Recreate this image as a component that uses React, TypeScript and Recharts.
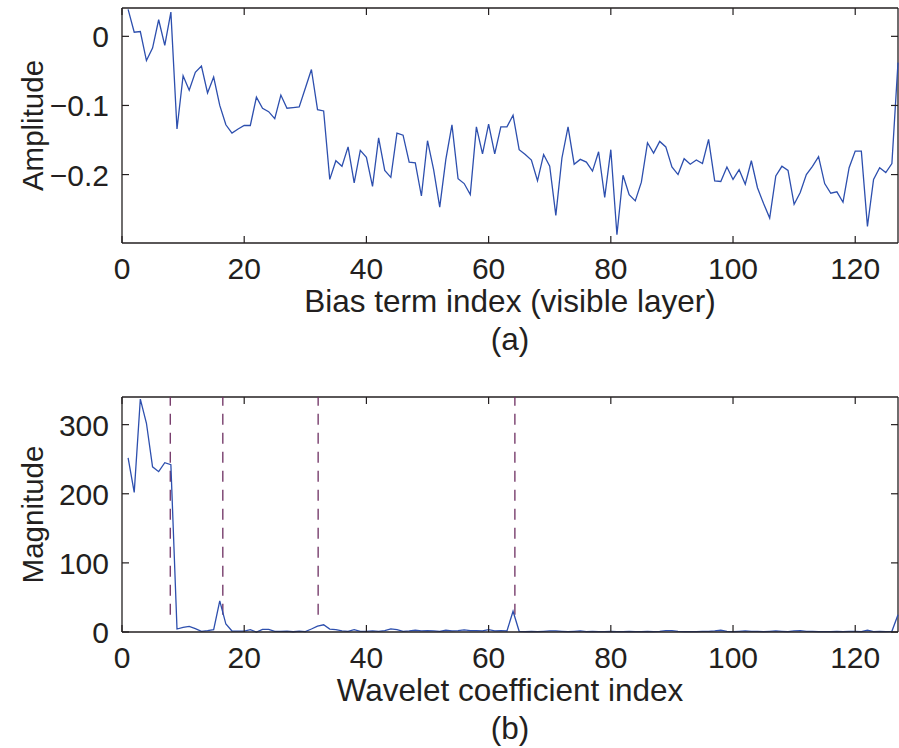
import React from 'react';
import { LineChart, Line, XAxis, YAxis, ReferenceLine } from 'recharts';

// bias term index 1..127 shared by both panels
const termIndex: number[] = Array.from({ length: 127 }, (_, k) => k + 1);

const biasValues: number[] = [
  0.039, 0.006, 0.007, -0.035, -0.017, 0.024, -0.013, 0.035, -0.134, -0.057,
  -0.078, -0.052, -0.043, -0.082, -0.059, -0.1, -0.128, -0.14, -0.134, -0.129,
  -0.129, -0.088, -0.104, -0.109, -0.119, -0.085, -0.104, -0.103, -0.102, -0.075,
  -0.048, -0.106, -0.108, -0.207, -0.18, -0.188, -0.16, -0.212, -0.165, -0.175,
  -0.217, -0.147, -0.194, -0.204, -0.14, -0.143, -0.182, -0.183, -0.231, -0.151,
  -0.193, -0.247, -0.178, -0.128, -0.206, -0.213, -0.229, -0.131, -0.17, -0.127,
  -0.17, -0.131, -0.131, -0.114, -0.164, -0.171, -0.179, -0.209, -0.171, -0.188,
  -0.259, -0.176, -0.131, -0.185, -0.178, -0.182, -0.195, -0.167, -0.233, -0.164,
  -0.287, -0.201, -0.229, -0.238, -0.211, -0.154, -0.169, -0.152, -0.16, -0.189,
  -0.2, -0.177, -0.185, -0.179, -0.184, -0.149, -0.209, -0.21, -0.189, -0.207,
  -0.193, -0.214, -0.18, -0.219, -0.242, -0.263, -0.202, -0.188, -0.194, -0.243,
  -0.226, -0.2, -0.188, -0.174, -0.213, -0.227, -0.225, -0.24, -0.19, -0.166,
  -0.166, -0.275, -0.207, -0.19, -0.197, -0.184, -0.038,
];

const waveletMagnitude: number[] = [
  252, 202, 337, 302, 239, 232, 245, 242, 4.3, 6.7,
  8, 4.8, 1, 2, 3.3, 45, 11.5, 1.4, 1.4, 1.4,
  3.3, 0, 3.8, 3.8, 1, 1, 1.4, 0.4, 1.4, 0.5,
  4.3, 8.6, 10.5, 4.3, 3.3, 1.5, 1, 3.5, 1, 1,
  1.5, 1, 2, 4.5, 3.5, 1, 1.5, 2.5, 1.5, 2,
  1.5, 1, 2.5, 1.5, 2, 3, 2, 2, 1.5, 3.5,
  1.5, 2, 1.5, 30, 1, 0.5, 1, 0.5, 1, 1.5,
  1.5, 1, 0.5, 1, 1.5, 0.5, 1, 0.5, 0.5, 1,
  0.5, 0.5, 1, 0.5, 0.5, 1, 0.5, 1, 2, 2,
  1, 0.5, 0.5, 0.5, 1, 1, 1.5, 2.5, 1, 0.5,
  1, 1.5, 1, 1, 0.5, 1, 1.5, 1, 0.5, 1.5,
  2, 1, 1, 0.5, 0.5, 0.5, 1, 0.5, 1, 1,
  0.5, 2.5, 0.5, 1, 0.5, 1, 25,
];

const xTicks = [0, 20, 40, 60, 80, 100, 120];
const biasTicks = [-0.2, -0.1, 0];
const magTicks = [0, 100, 200, 300];
const scaleBreaks = [7.9, 16.5, 32.1, 64.3];

const biasData = termIndex.map((i, k) => ({ i, v: biasValues[k] }));
const waveletData = termIndex.map((i, k) => ({ i, v: waveletMagnitude[k] }));

const FONT = '"Liberation Sans", Arial, Helvetica, sans-serif';
const INK = '#231f20';
const LINE = '#2d4fae';
const W = 899;
const PLOT_RIGHT = 898;
const TICK = 7;

const fmtBias = (v: number) => (v === 0 ? '0' : `\u2212${Math.abs(v).toFixed(1)}`);

// bottom tick: inward mark on both bottom and top edge, label below
const XTick = (props: any) => {
  const { x, y, payload, plotTop } = props;
  return (
    <g>
      <line x1={x} x2={x} y1={y} y2={y - TICK} stroke={INK} strokeWidth={1.2} />
      <line x1={x} x2={x} y1={plotTop} y2={plotTop + TICK} stroke={INK} strokeWidth={1.2} />
      <text x={x} y={y + 36} textAnchor="middle" fontSize={30} fontFamily={FONT} fill={INK}>
        {payload.value}
      </text>
    </g>
  );
};

const YTick = (props: any) => {
  const { x, y, payload, fmt } = props;
  return (
    <g>
      <line x1={x} x2={x + TICK} y1={y} y2={y} stroke={INK} strokeWidth={1.2} />
      <line x1={PLOT_RIGHT - TICK} x2={PLOT_RIGHT} y1={y} y2={y} stroke={INK} strokeWidth={1.2} />
      <text x={x - 13} y={y + 11} textAnchor="end" fontSize={30} fontFamily={FONT} fill={INK}>
        {fmt ? fmt(payload.value) : payload.value}
      </text>
    </g>
  );
};

const XTitle = (props: any) => {
  const { viewBox, title, tag } = props;
  const cx = viewBox.x + viewBox.width / 2;
  return (
    <g fontFamily={FONT} fill={INK} fontSize={31.5} textAnchor="middle">
      <text x={cx} y={viewBox.y + 69}>{title}</text>
      <text x={cx} y={viewBox.y + 107}>{tag}</text>
    </g>
  );
};

const YTitle = (props: any) => {
  const { viewBox, title } = props;
  const cy = viewBox.y + viewBox.height / 2;
  return (
    <text
      x={43}
      y={cy}
      transform={`rotate(-90 43 ${cy})`}
      textAnchor="middle"
      fontSize={29.5}
      fontFamily={FONT}
      fill={INK}
    >
      {title}
    </text>
  );
};

export default function App() {
  return (
    <div style={{ position: 'absolute', left: 0, top: 0, width: W, height: 748, background: '#fff' }}>
      <div style={{ position: 'absolute', left: 0, top: 0 }}>
        <LineChart width={W} height={385} data={biasData} margin={{ top: 8, right: 1, bottom: 0, left: 0 }}>
          <XAxis
            dataKey="i"
            type="number"
            domain={[0, 127]}
            ticks={xTicks}
            height={142}
            tickSize={0}
            tickMargin={0}
            tickLine={false}
            axisLine={{ stroke: INK, strokeWidth: 1.3 }}
            tick={<XTick plotTop={8} />}
            label={<XTitle title="Bias term index (visible layer)" tag="(a)" />}
          />
          <YAxis
            type="number"
            domain={[-0.299, 0.041]}
            ticks={biasTicks}
            width={122}
            tickSize={0}
            tickMargin={0}
            tickLine={false}
            axisLine={{ stroke: INK, strokeWidth: 1.3 }}
            tick={<YTick fmt={fmtBias} />}
            label={<YTitle title="Amplitude" />}
          />
          <ReferenceLine y={0.041} stroke={INK} strokeWidth={1.3} />
          <ReferenceLine x={127} stroke={INK} strokeWidth={1.3} />
          <Line type="linear" dataKey="v" stroke={LINE} strokeWidth={1.3} dot={false} isAnimationActive={false} />
        </LineChart>
      </div>
      <div style={{ position: 'absolute', left: 0, top: 385 }}>
        <LineChart width={W} height={363} data={waveletData} margin={{ top: 12, right: 1, bottom: 0, left: 0 }}>
          <XAxis
            dataKey="i"
            type="number"
            domain={[0, 127]}
            ticks={xTicks}
            height={116}
            tickSize={0}
            tickMargin={0}
            tickLine={false}
            axisLine={{ stroke: INK, strokeWidth: 1.3 }}
            tick={<XTick plotTop={12} />}
            label={<XTitle title="Wavelet coefficient index" tag="(b)" />}
          />
          <YAxis
            type="number"
            domain={[0, 340]}
            ticks={magTicks}
            width={122}
            tickSize={0}
            tickMargin={0}
            tickLine={false}
            axisLine={{ stroke: INK, strokeWidth: 1.3 }}
            tick={<YTick />}
            label={<YTitle title="Magnitude" />}
          />
          <ReferenceLine y={340} stroke={INK} strokeWidth={1.3} />
          <ReferenceLine x={127} stroke={INK} strokeWidth={1.3} />
          {scaleBreaks.map((b) => (
            <ReferenceLine
              key={b}
              segment={[{ x: b, y: 25 }, { x: b, y: 340 }]}
              stroke="#6e2f62"
              strokeWidth={1.3}
              strokeDasharray="11 8"
            />
          ))}
          <Line type="linear" dataKey="v" stroke={LINE} strokeWidth={1.3} dot={false} isAnimationActive={false} />
        </LineChart>
      </div>
    </div>
  );
}
